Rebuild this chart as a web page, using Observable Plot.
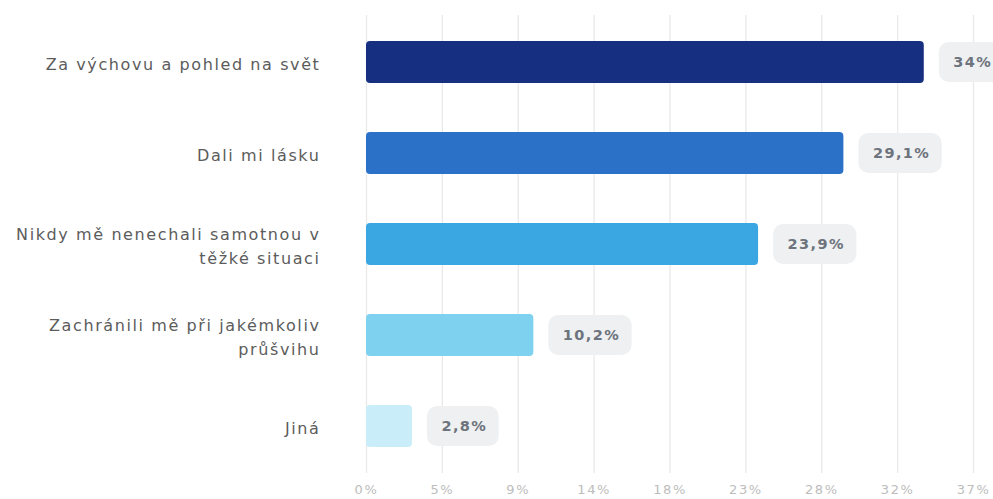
<!DOCTYPE html>
<html>
<head>
<meta charset="utf-8">
<script src="https://cdn.jsdelivr.net/npm/d3@7"></script>
<script src="https://cdn.jsdelivr.net/npm/@observablehq/plot@0.6"></script>
<style>
  html, body { margin: 0; padding: 0; background: #ffffff; }
  #chart svg { display: block; }
  text[aria-label="ylabels"] { letter-spacing: 1.6px; }
  text[aria-label="vlabels"] { letter-spacing: 1.4px; }
  g[aria-label="x-axis tick label"] text { letter-spacing: 1.6px; }
</style>
</head>
<body>
<div id="chart"></div>
<script>
const categories = [
  "Za výchovu a pohled na svět",
  "Dali mi lásku",
  "Nikdy mě nenechali samotnou v\ntěžké situaci",
  "Zachránili mě při jakémkoliv\nprůšvihu",
  "Jiná"
];
const values = [34, 29.1, 23.9, 10.2, 2.8];
const valueLabels = ["34%", "29,1%", "23,9%", "10,2%", "2,8%"];
const barColors = ["#172f80", "#2c71c8", "#3aa7e3", "#7fd2ef", "#c9eef9"];
const xTickLabels = ["0%", "5%", "9%", "14%", "18%", "23%", "28%", "32%", "37%"];
const xMax = 37;

const valueFont = "bold 14.5px 'DejaVu Sans'";
const canvas = document.createElement("canvas");
const ctx = canvas.getContext("2d");
ctx.font = valueFont;
function textWidth(s) { return ctx.measureText(s).width + 1.4 * s.length; }

const data = categories.map((c, i) => ({
  cat: c, value: values[i], label: valueLabels[i], bw: textWidth(valueLabels[i]) + 26
}));
const ticks = xTickLabels.map((_, i) => i * xMax / (xTickLabels.length - 1));

const chart = Plot.plot({
  width: 993,
  height: 499,
  marginLeft: 366,
  marginRight: 20,
  marginTop: 15,
  marginBottom: 26,
  style: { background: "#ffffff", fontFamily: "'DejaVu Sans', sans-serif" },
  x: { domain: [0, xMax], axis: null, label: null },
  y: { domain: categories, axis: null, label: null, paddingInner: 0.54, paddingOuter: 0.27 },
  color: { domain: categories, range: barColors },
  marks: [
    Plot.ruleX(ticks, { stroke: "#e9e9e9", strokeWidth: 1.3 }),
    Plot.axisX(ticks, {
      tickSize: 0, tickPadding: 11, fontSize: 13, color: "#bdbdbd", label: null,
      tickFormat: (d, i) => xTickLabels[i]
    }),
    Plot.barX(data, { x: "value", y: "cat", fill: "cat", rx: 4 }),
    ...data.map(d => Plot.barX([d], {
      x1: "value", x2: "value", y: "cat", dx: 15, insetRight: -d.bw,
      insetTop: 1, insetBottom: 1, fill: "#eef0f2", rx: 10
    })),
    Plot.text(data, {
      x: "value", y: "cat", text: "label", textAnchor: "start", dx: 29,
      fontSize: 14.5, fontWeight: "bold", fill: "#6d737c", ariaLabel: () => "vlabels"
    }),
    Plot.text(data, {
      x: 0, y: "cat", text: "cat", textAnchor: "end", dx: -46,
      lineHeight: 1.45, fontSize: 16, fill: "#5c5c5c", ariaLabel: () => "ylabels"
    })
  ]
});
document.getElementById("chart").appendChild(chart);
</script>
</body>
</html>
